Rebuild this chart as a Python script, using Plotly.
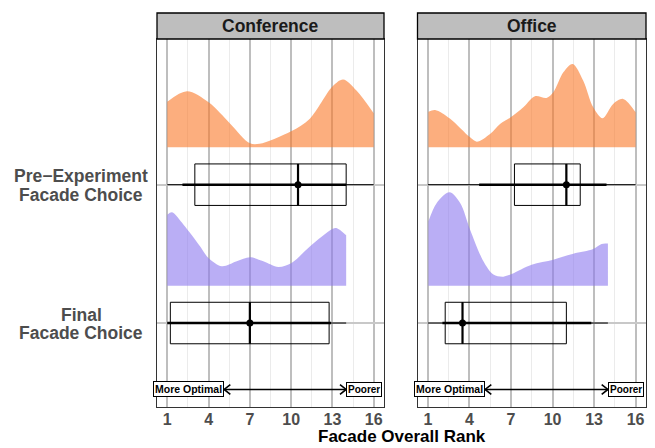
import plotly.graph_objects as go

# ---------------- data ----------------
panels = ["Conference", "Office"]
cat_lines = [["Final", "Facade Choice"], ["Pre\u2212Experiment", "Facade Choice"]]
cat_pos = [1, 2]
x_ticks = [1, 4, 7, 10, 13, 16]
x_minor = [2.5, 5.5, 8.5, 11.5, 14.5]

# density slabs (x, scaled height above slab baseline)
conf_pre_x = [1.0, 2.43, 4.0, 5.57, 7.0, 7.7, 10.0, 11.36, 13.0, 13.78, 14.75, 16.0]
conf_pre_h = [0.330, 0.405, 0.325, 0.171, 0.029, 0.025, 0.116, 0.207, 0.439, 0.490, 0.410, 0.246]
office_pre_x = [1.04, 1.52, 2.61, 4.05, 4.53, 5.49, 6.21, 6.93, 7.89, 8.73, 9.57, 10.06,
                10.78, 11.45, 12.22, 12.94, 13.61, 14.38, 15.1, 16.0]
office_pre_h = [0.258, 0.270, 0.207, 0.072, 0.041, 0.097, 0.169, 0.213, 0.289, 0.369, 0.357, 0.398,
                0.542, 0.603, 0.482, 0.289, 0.210, 0.314, 0.350, 0.253]
conf_final_x = [1.0, 1.34, 2.18, 3.39, 3.99, 4.96, 6.05, 7.01, 7.98, 9.07, 10.03, 11.36, 13.0, 13.29, 14.0]
conf_final_h = [0.513, 0.530, 0.441, 0.284, 0.200, 0.140, 0.176, 0.205, 0.176, 0.135, 0.164, 0.284,
                0.410, 0.417, 0.364]
office_final_x = [1.04, 1.64, 2.56, 3.33, 4.05, 5.01, 5.73, 6.45, 7.05, 8.49, 10.06, 11.5, 12.94, 13.54, 14.0]
office_final_h = [0.465, 0.598, 0.675, 0.598, 0.405, 0.176, 0.080, 0.065, 0.085, 0.152, 0.188, 0.231,
                  0.265, 0.302, 0.304]

# box / interval summaries: [q1, median, q3, thin_lo, thin_hi, thick_lo, thick_hi]
conf_pre_stats = [3.0, 10.5, 14.0, 1.0, 16.0, 2.1, 14.0]
conf_final_stats = [1.22, 7.0, 12.76, 1.0, 14.0, 1.0, 12.9]
office_pre_stats = [7.25, 11.0, 12.0, 1.0, 16.0, 4.7, 13.9]
office_final_stats = [2.25, 3.5, 11.0, 1.0, 14.0, 2.05, 12.8]

arrow_x = [5.13, 14.0]
arrow_y = 0.52
arrow_labels = ["More Optimal", "Poorer"]

# ---------------- styling ----------------
ORANGE = "rgba(250,120,40,0.6)"
PURPLE = "rgba(140,120,238,0.6)"
SLAB_OFFSET = 0.27
BOX_W = 0.3
FONT = "Liberation Sans"

fig = go.Figure()

panel_data = [
    ("x", "y", [(conf_pre_x, conf_pre_h, 2, ORANGE), (conf_final_x, conf_final_h, 1, PURPLE)],
     [(conf_pre_stats, 2), (conf_final_stats, 1)]),
    ("x2", "y2", [(office_pre_x, office_pre_h, 2, ORANGE), (office_final_x, office_final_h, 1, PURPLE)],
     [(office_pre_stats, 2), (office_final_stats, 1)]),
]

for xa, ya, slabs, stats in panel_data:
    for xs, hs, cat, col in slabs:
        base = cat + SLAB_OFFSET
        fig.add_trace(go.Scatter(x=[xs[0], xs[-1]], y=[base, base], xaxis=xa, yaxis=ya, mode="lines",
                                 line=dict(width=0, color=col), hoverinfo="skip", showlegend=False))
        fig.add_trace(go.Scatter(x=xs, y=[base + h for h in hs], xaxis=xa, yaxis=ya, mode="lines",
                                 line=dict(width=0, color=col, shape="spline", smoothing=0.9),
                                 fill="tonexty", fillcolor=col, hoverinfo="skip", showlegend=False))
    for st, cat in stats:
        q1, med, q3, lo, hi, tlo, thi = st
        fig.add_trace(go.Box(y=[cat], q1=[q1], median=[med], q3=[q3], lowerfence=[lo], upperfence=[hi],
                             orientation="h", width=BOX_W, whiskerwidth=0, boxpoints=False,
                             fillcolor="rgba(0,0,0,0)", line=dict(color="black", width=1),
                             xaxis=xa, yaxis=ya, showlegend=False, hoverinfo="skip"))
        fig.add_trace(go.Scatter(x=[tlo, thi], y=[cat, cat], xaxis=xa, yaxis=ya, mode="lines",
                                 line=dict(color="black", width=2.4), showlegend=False, hoverinfo="skip"))
        fig.add_trace(go.Scatter(x=[med, med], y=[cat - BOX_W / 2, cat + BOX_W / 2], xaxis=xa, yaxis=ya,
                                 mode="lines", line=dict(color="black", width=2.2),
                                 showlegend=False, hoverinfo="skip"))
        fig.add_trace(go.Scatter(x=[med], y=[cat], xaxis=xa, yaxis=ya, mode="markers",
                                 marker=dict(color="black", size=7), showlegend=False, hoverinfo="skip"))
    # double-headed arrow
    hl, hw = 0.45, 0.035
    fig.add_trace(go.Scatter(x=arrow_x, y=[arrow_y, arrow_y], xaxis=xa, yaxis=ya, mode="lines",
                             line=dict(color="black", width=1.6), showlegend=False, hoverinfo="skip"))
    fig.add_trace(go.Scatter(x=[arrow_x[0] + hl, arrow_x[0], arrow_x[0] + hl],
                             y=[arrow_y + hw, arrow_y, arrow_y - hw], xaxis=xa, yaxis=ya, mode="lines",
                             line=dict(color="black", width=1.6), showlegend=False, hoverinfo="skip"))
    fig.add_trace(go.Scatter(x=[arrow_x[1] - hl, arrow_x[1], arrow_x[1] - hl],
                             y=[arrow_y + hw, arrow_y, arrow_y - hw], xaxis=xa, yaxis=ya, mode="lines",
                             line=dict(color="black", width=1.6), showlegend=False, hoverinfo="skip"))
    fig.add_annotation(x=arrow_x[0], y=arrow_y, xref=xa, yref=ya, text=arrow_labels[0], showarrow=False,
                       xanchor="right", yanchor="middle",
                       font=dict(family=FONT, size=10.5, color="black", weight="bold"),
                       bgcolor="white", bordercolor="black", borderwidth=1, borderpad=1)
    fig.add_annotation(x=arrow_x[1], y=arrow_y, xref=xa, yref=ya, text=arrow_labels[1], showarrow=False,
                       xanchor="left", yanchor="middle",
                       font=dict(family=FONT, size=10, color="black", weight="bold"),
                       bgcolor="white", bordercolor="black", borderwidth=1, borderpad=1)

# page has an 8px body margin: figure is placed at (8, 8)
W, H = 647, 440
ML, MR, MT, MB = 149, 9, 31, 41
PW, PH = W - ML - MR, H - MT - MB
STRIP = 26 / PH
Y_SPAN = 3.053 - 0.393
PX_PER_Y = PH / Y_SPAN

xcommon = dict(range=[0.25, 16.75], tickvals=x_ticks, ticktext=[str(t) for t in x_ticks],
               showgrid=True, gridcolor="#BEBEBE", gridwidth=2, zeroline=False,
               minor=dict(tickvals=x_minor, showgrid=True, gridcolor="#EBEBEB", gridwidth=1),
               showline=True, mirror=True, linecolor="#333333", linewidth=1, ticks="",
               ticklabelstandoff=-2,
               tickfont=dict(family=FONT, size=16, color="#4D4D4D", weight="bold"))
ycommon = dict(range=[0.393, 3.053], tickvals=cat_pos, showticklabels=False, showgrid=True,
               gridcolor="#C8C8C8", gridwidth=2, zeroline=False, showline=True, mirror=True,
               linecolor="#333333", linewidth=1, ticks="")

fig.update_layout(
    width=W, height=H, margin=dict(l=ML, r=MR, t=MT, b=MB),
    paper_bgcolor="white", plot_bgcolor="white",
    xaxis=dict(domain=[0, 227 / PW], anchor="y", **xcommon),
    xaxis2=dict(domain=[260.5 / PW, 1], anchor="y2", **xcommon),
    yaxis=dict(domain=[0, 1], anchor="x", **ycommon),
    yaxis2=dict(domain=[0, 1], anchor="x2", matches="y", **ycommon),
    showlegend=False,
)

for xa, name in zip(["x", "x2"], panels):
    fig.add_shape(type="rect", xref=f"{xa} domain", yref="paper", x0=0, x1=1, y0=1, y1=1 + STRIP,
                  fillcolor="#BEBEBE", line=dict(color="black", width=1.3))
    fig.add_annotation(xref=f"{xa} domain", yref="paper", x=0.5, y=1 + STRIP / 2, text=name,
                       showarrow=False, xanchor="center", yanchor="middle",
                       font=dict(family=FONT, size=17.5, color="#1A1A1A", weight="bold"))

# two-line category labels, centred on each other, with ~18.5px line spacing
LINE_GAP = 18.5 / PX_PER_Y
for pos, lines in zip(cat_pos, cat_lines):
    for k, txt in enumerate(lines):
        fig.add_annotation(xref="paper", yref="y", x=(73 - ML) / PW, y=pos + LINE_GAP * (0.45 - k),
                           text=txt, showarrow=False, xanchor="center", yanchor="middle",
                           font=dict(family=FONT, size=17.5, color="#4D4D4D", weight="bold"))

fig.add_annotation(xref="paper", yref="paper", x=0.5, y=-(439.5 - (H - MB)) / PH, text="Facade Overall Rank",
                   showarrow=False, xanchor="center", yanchor="bottom",
                   font=dict(family=FONT, size=17, color="black", weight="bold"))

fig.write_html("out.html")
